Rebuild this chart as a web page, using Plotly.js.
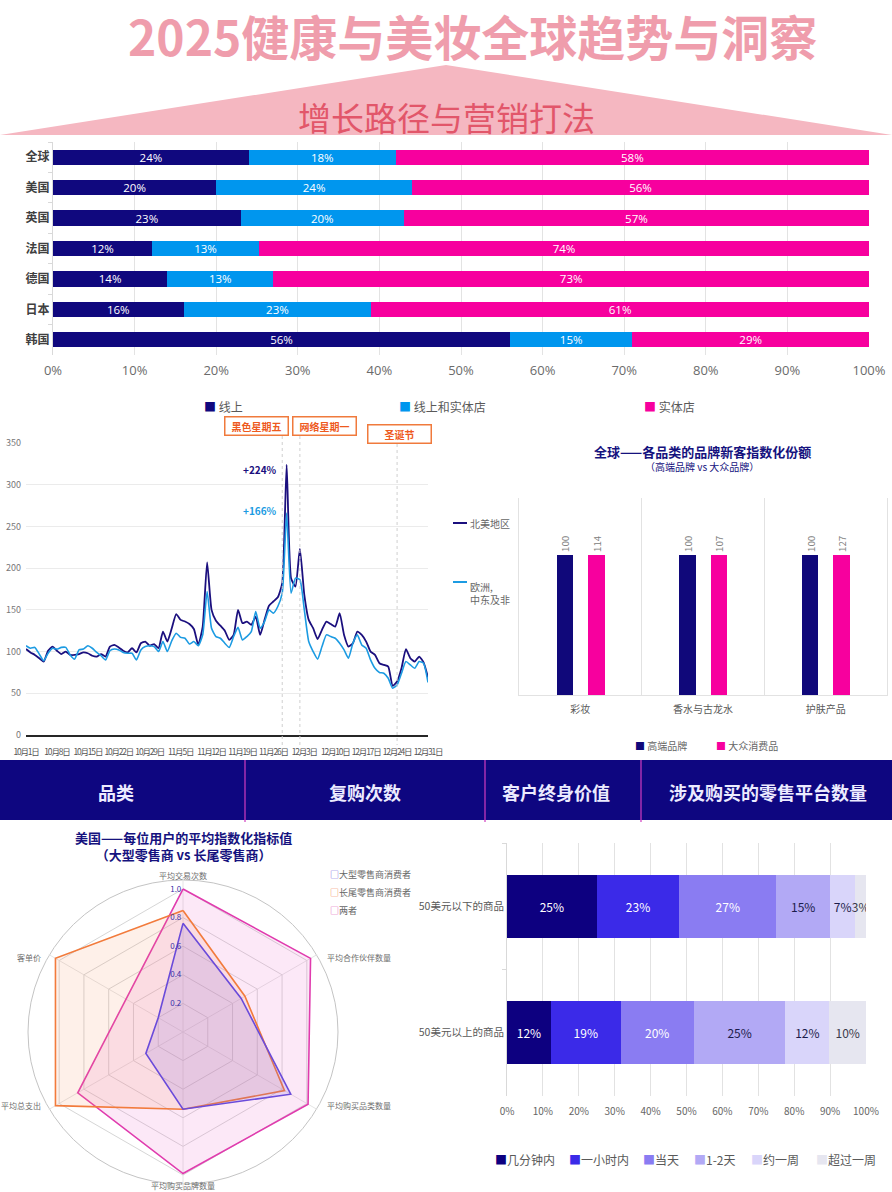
<!DOCTYPE html>
<html><head><meta charset="utf-8">
<script src="https://cdn.plot.ly/plotly-3.0.1.min.js"></script>
<style>
html,body{margin:0;padding:0;background:#fff;}
#chart{width:892px;height:1192px;}
</style>
</head><body><div id="chart"></div>
<script>
// ---------------- DATA ----------------
const mainTitle = '2025健康与美妆全球趋势与洞察';
const subTitle = '增长路径与营销打法';

const channelRegions = ['全球','美国','英国','法国','德国','日本','韩国'];
const channelNames = ['线上','线上和实体店','实体店'];
const onlineShare = [24,20,23,12,14,16,56];
const omniShare   = [18,24,20,13,13,23,15];
const storeShare  = [58,56,57,74,73,61,29];
const channelTicks = [0,10,20,30,40,50,60,70,80,90,100];

const trendStart = '2024-10-01';
const trendEnd = '2024-12-31';
const trendSeries = ['北美地区','欧洲,<br>中东及非'];
const northAmerica = [103,99,96,92,88,101,106,101,97,100,
  96,96,97,99,98,95,94,97,94,106,
  108,105,101,99,104,99,110,112,107,109,
  104,124,112,128,145,138,136,133,127,108,
  130,207,150,137,131,125,114,120,150,134,
  136,132,142,120,138,155,160,165,182,324,
  188,178,223,168,138,128,115,126,136,133,
  130,146,120,106,110,124,120,112,100,96,
  86,84,82,59,64,80,103,92,88,94,
  87,69];
const emea = [107,104,105,97,89,98,104,103,105,105,
  96,91,102,103,107,104,99,95,90,101,
  103,102,99,98,98,90,102,106,107,106,
  100,112,100,113,122,117,116,109,112,107,
  120,172,128,118,116,110,105,118,129,114,
  118,124,148,128,136,150,146,154,170,266,
  170,188,186,150,112,100,91,106,120,118,
  116,110,102,92,110,120,108,104,90,80,
  75,74,68,56,60,74,88,84,80,88,
  86,63];
const trendTickDates = ['2024-10-01','2024-10-08','2024-10-15','2024-10-22','2024-10-29','2024-11-05','2024-11-12','2024-11-19','2024-11-26','2024-12-03','2024-12-10','2024-12-17','2024-12-24','2024-12-31'];
const trendTickText = ['10月1日','10月8日','10月15日','10月22日','10月29日','11月5日','11月12日','11月19日','11月26日','12月3日','12月10日','12月17日','12月24日','12月31日'];
const eventNames = ['黑色星期五','网络星期一','圣诞节'];
const eventDates = ['2024-11-28','2024-12-02','2024-12-24'];
const peakLabels = ['+224%','+166%'];

const brandTitle = '全球——各品类的品牌新客指数化份额';
const brandSubtitle = '（高端品牌 vs 大众品牌）';
const brandCategories = ['彩妆','香水与古龙水','护肤产品'];
const brandSeries = ['高端品牌','大众消费品'];
const premiumIndex = [100,100,100];
const massIndex = [114,107,127];

const bannerLabels = ['品类','复购次数','客户终身价值','涉及购买的零售平台数量'];

const radarTitle = '美国——每位用户的平均指数化指标值<br>（大型零售商 vs 长尾零售商）';
const radarAxes = ['平均交易次数','平均合作伙伴数量','平均购买品类数量','平均购买品牌数量','平均总支出','客单价'];
const radarSeries = ['大型零售商消费者','长尾零售商消费者','两者'];
const bigRetailer = [0.76,0.47,0.87,0.54,0.30,0.20];
const longTail    = [0.85,0.50,0.82,0.54,1.03,1.03];
const bothShoppers= [1.00,1.03,1.01,0.99,0.85,0.46];
const radarTicks = [0.2,0.4,0.6,0.8,1.0];

const priceBands = ['50美元以下的商品','50美元以上的商品'];
const speedLabels = ['几分钟内','一小时内','当天','1-2天','约一周','超过一周'];
const speedUnder50 = [25,23,27,15,7,3];
const speedOver50  = [12,19,20,25,12,10];
const speedTicks = [0,10,20,30,40,50,60,70,80,90,100];

// ---------------- STYLE / LAYOUT HELPERS ----------------
const W = 892, H = 1192;
const px = x => x / W;
const py = y => 1 - y / H;
const FONT = 'Noto Sans CJK SC, Noto Sans, sans-serif';
const NARROW = 'Liberation Sans Narrow, Noto Sans CJK SC, sans-serif';
const CH_COLORS = ['#10087E','#0096EE','#F7009E'];
const SPEED_COLORS = ['#0D0080','#3B2AE8','#8A7CF2','#B2A9F5','#D9D5FA','#E6E6F0'];
const SPEED_TEXT = ['#FFFFFF','#FFFFFF','#FFFFFF','#1C1C4A','#1C1C4A','#3A3A4A'];

const traces = [];

// Chart 1: channel share (stacked 100%)
[onlineShare, omniShare, storeShare].forEach((vals, i) => {
  traces.push({
    type: 'bar', orientation: 'h', xaxis: 'x', yaxis: 'y',
    y: channelRegions, x: vals, name: channelNames[i],
    marker: {color: CH_COLORS[i]},
    text: vals.map(v => v + '%'), texttemplate: '%{text}',
    textposition: 'inside', insidetextanchor: 'middle', constraintext: 'none', textangle: 0,
    textfont: {color: '#FFFFFF', size: 11.5, family: 'Open Sans, Noto Sans, sans-serif'},
    hoverinfo: 'skip', showlegend: false
  });
});

// Chart 2: trend lines
traces.push({
  type: 'scatter', mode: 'lines', xaxis: 'x2', yaxis: 'y2',
  x0: trendStart, dx: 86400000, y: northAmerica, name: '北美地区',
  line: {color: '#1B0F7E', width: 1.8, shape: 'spline', smoothing: 0.5},
  hoverinfo: 'skip', showlegend: false
});
traces.push({
  type: 'scatter', mode: 'lines', xaxis: 'x2', yaxis: 'y2',
  x0: trendStart, dx: 86400000, y: emea, name: '欧洲,中东及非',
  line: {color: '#1C9BE2', width: 1.6, shape: 'spline', smoothing: 0.5},
  hoverinfo: 'skip', showlegend: false
});

// Chart 3: grouped index bars (own base -> not stacked)
[premiumIndex, massIndex].forEach((vals, i) => {
  traces.push({
    type: 'bar', xaxis: 'x3', yaxis: 'y3', base: 0,
    x: brandCategories, y: vals, name: brandSeries[i],
    width: 0.135, offset: i === 0 ? -0.194 : 0.062,
    marker: {color: i === 0 ? '#10087A' : '#F7009E'},
    text: vals.map(String), textposition: 'outside', textangle: -90,
    textfont: {color: '#808080', size: 10}, cliponaxis: false,
    hoverinfo: 'skip', showlegend: false
  });
});

// Chart 4: radar
const radarStyle = [
  {line: '#6A4BDA', fill: 'rgba(125,95,225,0.16)'},
  {line: '#F27B3C', fill: 'rgba(246,150,100,0.14)'},
  {line: '#E03BAE', fill: 'rgba(240,120,205,0.17)'}
];
const radarVals = [bigRetailer, longTail, bothShoppers];
[2,1,0].forEach(i => {
  traces.push({
    type: 'scatterpolar', subplot: 'polar',
    r: radarVals[i].concat([radarVals[i][0]]),
    theta: radarAxes.concat([radarAxes[0]]),
    name: radarSeries[i], mode: 'lines', fill: 'toself',
    line: {color: radarStyle[i].line, width: 1.6}, fillcolor: radarStyle[i].fill,
    hoverinfo: 'skip', showlegend: false
  });
});

// Chart 5: delivery speed stacked 100%
speedLabels.forEach((lab, i) => {
  const vals = [speedUnder50[i], speedOver50[i]];
  traces.push({
    type: 'bar', orientation: 'h', xaxis: 'x4', yaxis: 'y4',
    y: priceBands, x: vals, name: lab,
    marker: {color: SPEED_COLORS[i]},
    text: vals.map(v => v + '%'), texttemplate: '%{text}',
    textposition: 'inside', insidetextanchor: 'middle', constraintext: 'none', textangle: 0,
    textfont: {color: SPEED_TEXT[i], size: 12, family: NARROW},
    hoverinfo: 'skip', showlegend: false
  });
});

// ---------------- SHAPES ----------------
const shapes = [];
shapes.push({type: 'path', xref: 'paper', yref: 'paper', layer: 'below',
  path: `M 0 ${py(135)} L ${px(446)} ${py(65)} L 1 ${py(135)} Z`,
  fillcolor: '#F5B7C1', line: {width: 0}});
eventDates.forEach((d, i) => {
  shapes.push({type: 'line', xref: 'x2', yref: 'paper', x0: d, x1: d,
    y0: py(i === 2 ? 444 : 436), y1: py(745), line: {color: '#CFCFCF', width: 1, dash: 'dot'}});
});
shapes.push({type: 'line', xref: 'paper', yref: 'paper', x0: px(453), x1: px(467), y0: py(523), y1: py(523), line: {color: '#1B0F7E', width: 2}});
shapes.push({type: 'line', xref: 'paper', yref: 'paper', x0: px(453), x1: px(467), y0: py(582), y1: py(582), line: {color: '#1C9BE2', width: 2}});
shapes.push({type: 'rect', xref: 'paper', yref: 'paper', layer: 'below',
  x0: 0, x1: 1, y0: py(820), y1: py(760), fillcolor: '#0E0680', line: {width: 0}});
[245, 485, 641].forEach(x => {
  shapes.push({type: 'line', xref: 'paper', yref: 'paper', x0: px(x), x1: px(x), y0: py(822), y1: py(760),
    line: {color: '#D23CC0', width: 1.2}});
});
shapes.push({type: 'circle', xref: 'paper', yref: 'paper', layer: 'below',
  x0: px(183 - 155), x1: px(183 + 155), y0: py(1032 + 152), y1: py(1032 - 152),
  line: {color: '#C4C4C4', width: 1}});

// ---------------- ANNOTATIONS ----------------
const ann = [];
const txt = (x, y, text, size, color, opts = {}) => Object.assign({
  xref: 'paper', yref: 'paper', x: px(x), y: py(y), text: text, showarrow: false,
  xanchor: 'center', yanchor: 'middle', font: {size: size, color: color, family: FONT}
}, opts);
const bold = (size, color, family) => ({size: size, color: color, family: family || FONT, weight: 'bold'});

ann.push(txt(472, 35, mainTitle, 48, '#EF9DAC', {font: bold(48, '#EF9DAC')}));
ann.push(txt(447, 117, subTitle, 33, '#E2566A'));

const sq = (c) => `<span style="color:${c}">■</span>`;
[[205, 0], [400, 1], [645, 2]].forEach(([x, i]) => {
  ann.push(txt(x - 3, 406, sq(CH_COLORS[i]) + ' ' + channelNames[i], 12, '#595959', {xanchor: 'left'}));
});

[[256, 425.5], [324, 425.5], [399, 433.5]].forEach(([x, y], i) => {
  ann.push(txt(x, y, eventNames[i], 10, '#EE5A1E', {
    font: bold(10, '#EE5A1E'),
    bordercolor: '#F07A3C', borderwidth: 1.5, bgcolor: '#FFFFFF', borderpad: 2, width: 58, height: 13}));
});
ann.push(txt(260, 469, peakLabels[0], 10, '#1B0F7E', {font: bold(10, '#1B0F7E', NARROW)}));
ann.push(txt(260, 511, peakLabels[1], 10, '#1C9BE2', {font: bold(10, '#1C9BE2', NARROW)}));
ann.push(txt(468, 523, trendSeries[0], 10, '#666666', {xanchor: 'left'}));
ann.push(txt(468, 593, trendSeries[1], 10, '#666666', {xanchor: 'left', align: 'left'}));

ann.push(txt(702, 451, brandTitle, 13, '#15127E', {font: bold(13, '#15127E')}));
ann.push(txt(702, 466, brandSubtitle, 10, '#15127E'));
ann.push(txt(633, 745, sq('#10087A') + ' ' + brandSeries[0], 10, '#666666', {xanchor: 'left'}));
ann.push(txt(714, 745, sq('#F7009E') + ' ' + brandSeries[1], 10, '#666666', {xanchor: 'left'}));

[[116, 0], [365, 1], [556, 2], [768, 3]].forEach(([x, i]) => {
  ann.push(txt(x, 792, bannerLabels[i], 18, '#ECEBFF', {font: bold(18, '#ECEBFF')}));
});

ann.push(txt(183, 846, radarTitle, 13, '#15127E', {font: bold(13, '#15127E')}));
[874, 892, 910].forEach((y, i) => {
  ann.push(txt(328, y, `<span style="color:${radarStyle[i].line}">□</span>` + radarSeries[i], 9, '#666666', {xanchor: 'left'}));
});
const radarLabelPos = [[183, 875, 'center'], [325, 957, 'left'], [325, 1105, 'left'], [183, 1185, 'center'], [43, 1105, 'right'], [43, 957, 'right']];
radarLabelPos.forEach(([x, y, a], i) => {
  ann.push(txt(x, y, radarAxes[i], 8, '#6E6E6E', {xanchor: a}));
});

[493, 567, 641, 692, 749, 814].forEach((x, i) => {
  ann.push(txt(x, 1159, sq(SPEED_COLORS[i]) + speedLabels[i], 12, '#595959', {xanchor: 'left'}));
});

// ---------------- LAYOUT ----------------
const layout = {
  width: W, height: H, margin: {l: 0, r: 0, t: 0, b: 0},
  paper_bgcolor: '#FFFFFF', plot_bgcolor: 'rgba(0,0,0,0)',
  font: {family: FONT, color: '#595959'},
  barmode: 'stack', barnorm: 'percent', bargap: 0.5,
  showlegend: false,
  xaxis: {domain: [px(53), px(869)], anchor: 'y', range: [0, 100], tickvals: channelTicks,
    ticktext: channelTicks.map(v => v + '%'), showgrid: true, gridcolor: '#E3E3E3',
    zeroline: false, showline: false, ticklabelstandoff: 6,
    tickfont: {size: 13, color: '#6B6B6B', family: 'Open Sans, Noto Sans, sans-serif'}},
  yaxis: {domain: [py(355), py(142)], anchor: 'x', type: 'category', autorange: 'reversed',
    showline: true, linecolor: '#D9D9D9', ticks: 'outside', ticklen: 4, tickcolor: '#D9D9D9', tickson: 'boundaries',
    tickfont: {size: 12, color: '#404040', weight: 'bold'}, showgrid: false, zeroline: false},
  xaxis2: {domain: [px(26), px(428)], anchor: 'y2', type: 'date', range: [trendStart, trendEnd],
    tickvals: trendTickDates,
    ticktext: trendTickText.map(t => `<span style="letter-spacing:-1.2px">${t}</span>`),
    tickangle: 0, ticklabelstandoff: 8,
    tickfont: {size: 8.5, color: '#555555', family: NARROW}, showgrid: false,
    showline: true, linecolor: '#262626', linewidth: 1.5, ticks: '', zeroline: false},
  yaxis2: {domain: [py(735), py(443)], anchor: 'x2', range: [0, 350], dtick: 50,
    gridcolor: '#EBEBEB', zeroline: false, showline: false, ticklabelstandoff: 4,
    tickfont: {size: 9, color: '#777777', family: NARROW}},
  xaxis3: {domain: [px(519), px(887)], anchor: 'y3', type: 'category', tickson: 'boundaries',
    showgrid: true, gridcolor: '#E2E2E2', showline: true, linecolor: '#E2E2E2', ticks: '',
    ticklabelstandoff: 5, tickfont: {size: 10, color: '#595959'}},
  yaxis3: {domain: [py(695), py(498)], anchor: 'x3', range: [0, 140.7], showticklabels: false,
    showgrid: false, zeroline: false, showline: true, mirror: true, linecolor: '#E2E2E2'},
  xaxis4: {domain: [px(507), px(866)], anchor: 'y4', range: [0, 100], tickvals: speedTicks,
    ticktext: speedTicks.map(v => v + '%'), showgrid: true, gridcolor: '#E2E2E2', zeroline: false,
    ticklabelstandoff: 8, tickfont: {size: 10, color: '#666666'}},
  yaxis4: {domain: [py(1096), py(843)], anchor: 'x4', type: 'category', autorange: 'reversed',
    showline: true, linecolor: '#D9D9D9', ticks: 'outside', ticklen: 4, tickcolor: '#D9D9D9', tickson: 'boundaries',
    tickfont: {size: 10.5, color: '#595959'}, showgrid: false, zeroline: false},
  polar: {domain: {x: [px(28), px(338)], y: [py(1187), py(877)]}, bgcolor: 'rgba(0,0,0,0)',
    gridshape: 'linear',
    radialaxis: {range: [0, 1.084], tickvals: radarTicks, ticktext: radarTicks.map(v => v.toFixed(1)),
      angle: 90, tickangle: 90, side: 'counterclockwise', showline: false, ticks: '', gridcolor: '#D6D6D6',
      tickfont: {size: 8, color: '#3A2FA8'}},
    angularaxis: {direction: 'clockwise', rotation: 90, showline: false, gridcolor: '#E4E4E4',
      ticks: '', showticklabels: false}},
  shapes: shapes, annotations: ann
};

Plotly.newPlot('chart', traces, layout, {staticPlot: true, displayModeBar: false});
</script></body></html>
